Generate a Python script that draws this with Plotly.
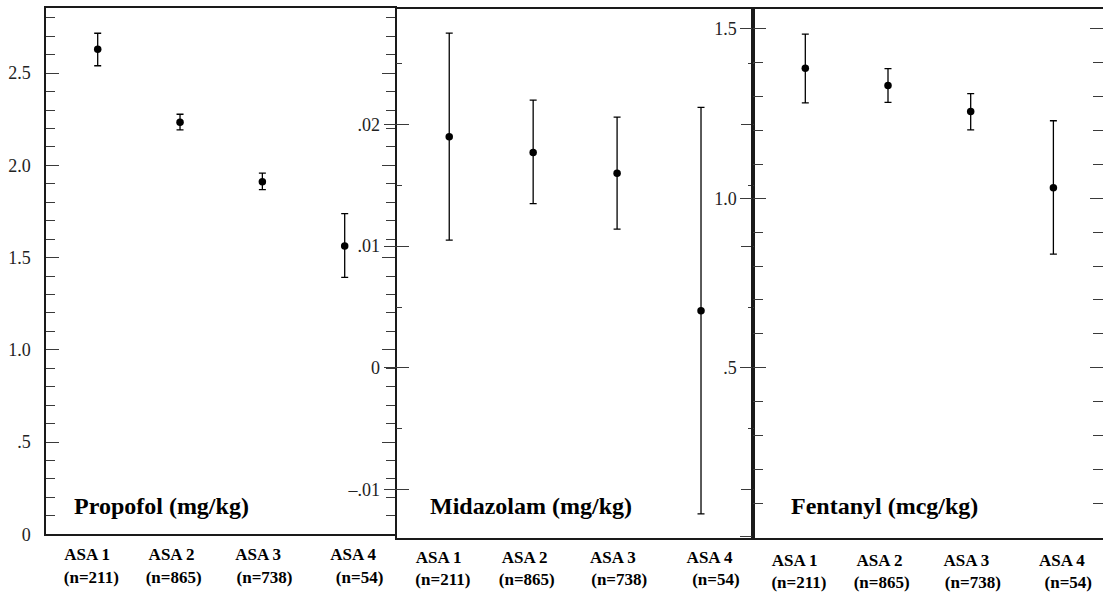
import plotly.graph_objects as go

# ASA physical status groups and their sizes
categories = ["ASA 1", "ASA 2", "ASA 3", "ASA 4"]
group_sizes = [211, 865, 738, 54]

# Mean dose per group with upper / lower ends of the interval
propofol_mean = [2.629, 2.234, 1.911, 1.563]
propofol_upper = [2.716, 2.277, 1.958, 1.738]
propofol_lower = [2.540, 2.192, 1.868, 1.393]

midazolam_mean = [0.0190, 0.0177, 0.0160, 0.0047]
midazolam_upper = [0.0275, 0.0220, 0.0206, 0.0214]
midazolam_lower = [0.0105, 0.0135, 0.0114, -0.0120]

fentanyl_mean = [1.384, 1.333, 1.256, 1.031]
fentanyl_upper = [1.485, 1.383, 1.309, 1.229]
fentanyl_lower = [1.282, 1.283, 1.202, 0.835]

# Axis tick values and their printed labels
propofol_ticks = [0, 0.5, 1.0, 1.5, 2.0, 2.5]
propofol_ticktext = ["0", ".5", "1.0", "1.5", "2.0", "2.5"]
midazolam_ticks = [-0.01, 0, 0.01, 0.02]
midazolam_ticktext = ["\u2013.01", "0", ".01", ".02"]
fentanyl_ticks = [0, 0.5, 1.0, 1.5]
fentanyl_ticktext = ["", ".5", "1.0", "1.5"]

titles = ["Propofol (mg/kg)", "Midazolam (mg/kg)", "Fentanyl (mcg/kg)"]

W, H = 1103, 592
SERIF = "'Liberation Serif', 'Times New Roman', 'DejaVu Serif', serif"
LINE = "#1a1a1a"
TICK = "#3a3a3a"

# Category labels sit slightly off-centre; pad each line with no-break
# spaces (negative = trailing pad, nudges left; positive = leading pad)
NB = "\u00a0"
pad_line1 = [-5, -4, -2, 4]
pad_line2 = [-3, -3, 1, 7]


def padded(text, n):
    return NB * n + text if n > 0 else text + NB * (-n)


xlabels = [
    f"<b>{padded(c, a)}<br>{padded(f'(n={n})', b)}</b>"
    for c, n, a, b in zip(categories, group_sizes, pad_line1, pad_line2)
]

panels = [
    dict(mean=propofol_mean, up=propofol_upper, lo=propofol_lower,
         ticks=propofol_ticks, text=propofol_ticktext,
         xdom=(46, 395), ydom=(8, 534.3), yrange=(0, 2.853),
         xrange=(-0.628, 3.611), minor=0.1, minorlen=9, majorlen=13,
         cross=False, title_xy=(0.074, 0.054), xstand=4),
    dict(mean=midazolam_mean, up=midazolam_upper, lo=midazolam_lower,
         ticks=midazolam_ticks, text=midazolam_ticktext,
         xdom=(396.7, 753.3), ydom=(8.5, 537.5), yrange=(-0.01394, 0.02953),
         xrange=(-0.626, 3.623), minor=0.005, minorlen=6, majorlen=13,
         cross=True, title_xy=(0.088, 0.06), xstand=3),
    dict(mean=fentanyl_mean, up=fentanyl_upper, lo=fentanyl_lower,
         ticks=fentanyl_ticks, text=fentanyl_ticktext,
         xdom=(753.3, 1103), ydom=(9, 537.6), yrange=(-0.002, 1.559),
         xrange=(-0.629, 3.60), minor=0.1, minorlen=10, majorlen=13,
         cross=True, title_xy=(0.102, 0.06), xstand=6),
]

fig = go.Figure()
layout = dict(
    width=W, height=H,
    margin=dict(l=0, r=0, t=0, b=0),
    paper_bgcolor="white", plot_bgcolor="white",
    showlegend=False,
    font=dict(family=SERIF, color="black"),
    annotations=[],
)

for i, p in enumerate(panels):
    k = i + 1
    xname = "x" if k == 1 else f"x{k}"
    yname = "y" if k == 1 else f"y{k}"
    xkey = "xaxis" if k == 1 else f"xaxis{k}"
    ykey = "yaxis" if k == 1 else f"yaxis{k}"

    err_plus = [u - m for u, m in zip(p["up"], p["mean"])]
    err_minus = [m - l for m, l in zip(p["mean"], p["lo"])]

    fig.add_trace(go.Scatter(
        x=categories, y=p["mean"], mode="markers",
        xaxis=xname, yaxis=yname,
        marker=dict(color="black", size=7.5),
        error_y=dict(type="data", symmetric=False, array=err_plus,
                     arrayminus=err_minus, color="black",
                     thickness=1.3, width=3.5),
        hoverinfo="skip",
    ))

    xd = (p["xdom"][0] / W, min(p["xdom"][1] / W, 1.0))
    yd = (1 - p["ydom"][1] / H, 1 - p["ydom"][0] / H)

    layout[xkey] = dict(
        domain=xd, anchor=yname, range=list(p["xrange"]),
        type="category", categoryorder="array", categoryarray=categories,
        tickmode="array", tickvals=categories, ticktext=xlabels,
        ticks="", showline=True, linecolor=LINE, linewidth=1.5,
        mirror=True, showgrid=False, zeroline=False, automargin=False,
        tickfont=dict(family=SERIF, size=17, color="black"),
        ticklabelstandoff=p["xstand"], fixedrange=True,
    )
    layout[ykey] = dict(
        domain=yd, anchor=xname, range=list(p["yrange"]),
        tickmode="array", tickvals=p["ticks"], ticktext=p["text"],
        ticks="inside", ticklen=p["majorlen"], tickwidth=1.2, tickcolor=TICK,
        minor=dict(tick0=0, dtick=p["minor"], ticks="inside",
                   ticklen=p["minorlen"], tickwidth=1.2, tickcolor=TICK,
                   showgrid=False),
        showline=True, linecolor=LINE, linewidth=1.5, mirror="ticks",
        showgrid=False, zeroline=False, automargin=False,
        showticklabels=not p["cross"], ticklabelstandoff=10,
        tickfont=dict(family=SERIF, size=18, color="#222"),
        fixedrange=True,
    )

    if p["cross"]:
        # second left axis carrying the outward half of the major ticks and the labels
        ok = k + 2
        oname = f"y{ok}"
        fig.add_trace(go.Scatter(x=[None], y=[None], xaxis=xname, yaxis=oname,
                                 hoverinfo="skip", showlegend=False))
        layout[f"yaxis{ok}"] = dict(
            overlaying=yname, anchor=xname, side="left",
            range=list(p["yrange"]),
            tickmode="array", tickvals=p["ticks"], ticktext=p["text"],
            ticks="outside", ticklen=12, tickwidth=1.2, tickcolor=TICK,
            showline=False, showgrid=False, zeroline=False, automargin=False,
            tickfont=dict(family=SERIF, size=18, color="#222"),
            fixedrange=True,
        )

    layout["annotations"].append(dict(
        text=f"<b>{titles[i]}</b>", showarrow=False,
        xref=f"{xname} domain", yref=f"{yname} domain",
        x=p["title_xy"][0], y=p["title_xy"][1],
        xanchor="left", yanchor="middle",
        font=dict(family=SERIF, size=24, color="black"),
    ))

fig.update_layout(**layout)
fig.write_html("out.html", config={"displayModeBar": False})
